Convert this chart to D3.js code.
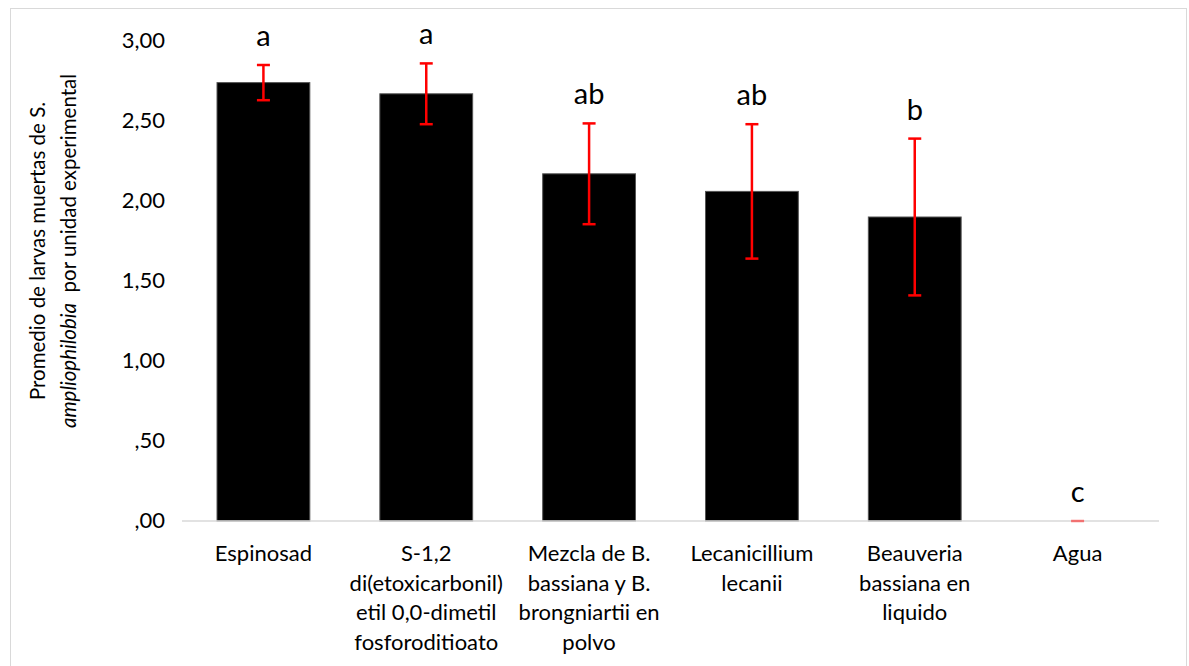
<!DOCTYPE html>
<html lang="es">
<head>
    <meta charset="UTF-8" />
    <title>Promedio de larvas muertas</title>
    <script src="https://cdn.jsdelivr.net/npm/d3@7"></script>
    <style>
        body { margin: 0; background: #fff; }
        svg { display: block; font-family: Lato, "Open Sans", sans-serif; }
    </style>
</head>
<body>
    <svg id="chart" width="1189" height="666"></svg>
    <script>
        // data
        const categories = [
            "Espinosad",
            "S-1,2\ndi(etoxicarbonil)\netil 0,0-dimetil\nfosforoditioato",
            "Mezcla de B.\nbassiana y B.\nbrongniartii en\npolvo",
            "Lecanicillium\nlecanii",
            "Beauveria\nbassiana en\nliquido",
            "Agua"
        ];
        const means = [2.74, 2.67, 2.17, 2.06, 1.90, 0.00];
        const errors = [0.11, 0.19, 0.315, 0.42, 0.49, 0.00];
        const letters = ["a", "a", "ab", "ab", "b", "c"];
        const yTicks = [0, 0.5, 1, 1.5, 2, 2.5, 3];

        const margin = { top: 41, right: 30, bottom: 145, left: 182 },
            width = 1189 - margin.left - margin.right,
            height = 666 - margin.top - margin.bottom;

        const svg = d3.select("#chart");

        // outer frame
        svg.append("rect")
            .attr("x", 10.5).attr("y", 8.5)
            .attr("width", 1176).attr("height", 670)
            .attr("fill", "none")
            .attr("stroke", "#d9d9d9");

        const g = svg.append("g")
            .attr("transform", `translate(${margin.left}, ${margin.top})`);

        const x = d3.scaleBand()
            .domain(d3.range(categories.length))
            .range([0, width])
            .paddingInner(0.43)
            .paddingOuter(0.215);

        const y = d3.scaleLinear()
            .domain([0, 3])
            .range([height, 0]);

        const fmt = v => d3.format(".2f")(v).replace(".", ",").replace(/^0/, "");

        // y axis (labels only)
        const yAxis = g.append("g")
            .call(d3.axisLeft(y).tickValues(yTicks).tickFormat(fmt).tickSize(0).tickPadding(17));
        yAxis.select(".domain").remove();
        yAxis.selectAll("text")
            .attr("font-family", "Lato, sans-serif")
            .attr("font-size", 22)
            .attr("fill", "#000")
            .attr("dy", "0.3em");

        // bars
        g.selectAll(".bar")
            .data(means)
            .join("rect")
            .attr("class", "bar")
            .attr("x", (d, i) => x(i))
            .attr("y", d => y(d))
            .attr("width", x.bandwidth())
            .attr("height", d => height - y(d))
            .attr("fill", "#000")
            .attr("stroke", "#555")
            .attr("stroke-width", 1);

        // x axis line
        g.append("line")
            .attr("x1", 0).attr("x2", width)
            .attr("y1", height).attr("y2", height)
            .attr("stroke", "#d9d9d9")
            .attr("stroke-width", 1.5);

        // error bars
        const eb = g.selectAll(".err")
            .data(means)
            .join("g")
            .attr("class", "err")
            .attr("transform", (d, i) => `translate(${x(i) + x.bandwidth() / 2},0)`)
            .attr("stroke", "#ff0000")
            .attr("stroke-width", 2.5);
        eb.append("line")
            .attr("y1", (d, i) => y(d + errors[i]))
            .attr("y2", (d, i) => y(Math.max(0, d - errors[i])));
        eb.append("line")
            .attr("x1", -6.5).attr("x2", 6.5)
            .attr("y1", (d, i) => y(d + errors[i]))
            .attr("y2", (d, i) => y(d + errors[i]))
            .attr("stroke-opacity", (d, i) => errors[i] === 0 ? 0.5 : 1);
        eb.filter((d, i) => errors[i] > 0).append("line")
            .attr("x1", -6.5).attr("x2", 6.5)
            .attr("y1", (d, i) => y(d - errors[i]))
            .attr("y2", (d, i) => y(d - errors[i]));

        // significance letters
        g.selectAll(".letter")
            .data(letters)
            .join("text")
            .attr("class", "letter")
            .attr("x", (d, i) => x(i) + x.bandwidth() / 2)
            .attr("y", (d, i) => y(means[i] + errors[i]) - 19)
            .attr("text-anchor", "middle")
            .attr("font-size", 29)
            .attr("fill", "#000")
            .text(d => d);

        // category labels
        const cat = g.selectAll(".cat")
            .data(categories)
            .join("text")
            .attr("class", "cat")
            .attr("x", (d, i) => x(i) + x.bandwidth() / 2)
            .attr("y", height + 40)
            .attr("text-anchor", "middle")
            .attr("font-size", 22)
            .attr("fill", "#000");
        cat.each(function (d) {
            const t = d3.select(this);
            d.split("\n").forEach((line, k) => {
                t.append("tspan")
                    .attr("x", t.attr("x"))
                    .attr("dy", k === 0 ? 0 : 29.5)
                    .text(line);
            });
        });

        // y axis title
        const title = svg.append("text")
            .attr("transform", "translate(0, 251) rotate(-90)")
            .attr("text-anchor", "middle")
            .attr("font-size", 20.5)
            .attr("fill", "#000");
        title.append("tspan")
            .attr("x", 0).attr("y", 45)
            .text("Promedio de larvas muertas de S.");
        const t2 = title.append("tspan")
            .attr("x", 0).attr("y", 76);
        t2.append("tspan").attr("font-style", "italic").text("ampliophilobia");
        t2.append("tspan").attr("xml:space", "preserve").text("  por unidad experimental");
    </script>
</body>
</html>
